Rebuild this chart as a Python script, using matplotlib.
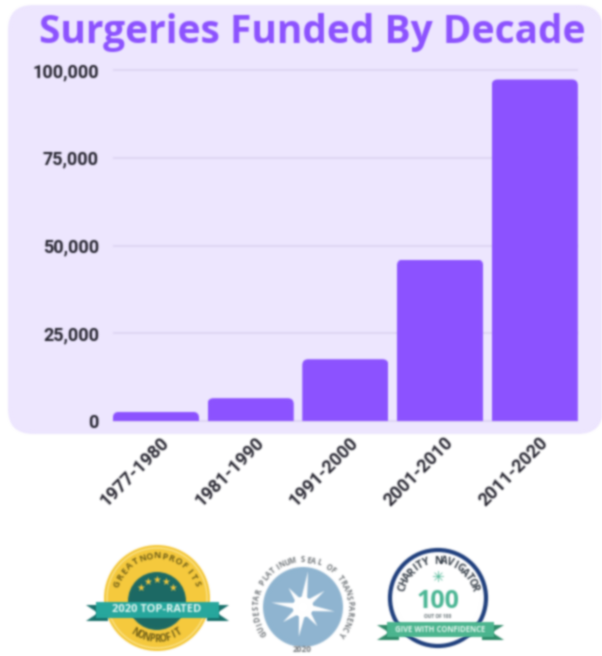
import numpy as np
import matplotlib
matplotlib.use('Agg')
import matplotlib.pyplot as plt
from matplotlib.patches import Circle, FancyBboxPatch, Patch, Polygon
from matplotlib.collections import LineCollection
from matplotlib.text import Text
from matplotlib.transforms import ScaledTranslation

decades = ['1977-1980', '1981-1990', '1991-2000', '2001-2010', '2011-2020']
surgeries = [2600, 6500, 17600, 46000, 97300]
y_ticks = [0, 25000, 50000, 75000, 100000]
y_labels = ['0', '25,000', '50,000', '75,000', '100,000']
title = 'Surgeries Funded By Decade'

W, H = 602, 656
PURPLE = '#8c52ff'
LILAC = '#ede6fe'
GRID = '#dcd3f2'
INK = '#24232e'
KERNEL = np.exp(-0.5 * (np.arange(-4, 5) / 0.95) ** 2)
KERNEL = KERNEL / KERNEL.sum()


def soft(im, dpi):
    # the source picture is a blurry screenshot
    pad = 5
    im = np.pad(im, ((pad, pad), (pad, pad), (0, 0)))
    alpha = im[..., 3]
    layers = [im[..., 0] * alpha, im[..., 1] * alpha, im[..., 2] * alpha, alpha]
    out = []
    for layer in layers:
        layer = np.apply_along_axis(lambda m: np.convolve(m, KERNEL, mode='same'), 0, layer)
        layer = np.apply_along_axis(lambda m: np.convolve(m, KERNEL, mode='same'), 1, layer)
        out.append(layer)
    a = np.maximum(out[3], 1e-4)
    res = np.dstack([out[0] / a, out[1] / a, out[2] / a, out[3]])
    return np.clip(res, 0, 1), -pad, -pad


def arc_text(ax, cx, cy, r, start, end, text, color, size, bottom=False):
    # letters placed one by one, angles clockwise from 12 o'clock
    angles = np.linspace(start, end, len(text))
    for ch, a in zip(text, angles):
        t = np.deg2rad(a)
        rot = 180 - a if bottom else -a
        ax.text(cx + r * np.sin(t), cy - r * np.cos(t), ch, color=color, fontsize=size,
                fontweight='bold', ha='center', va='center', rotation=rot,
                rotation_mode='anchor', family='Open Sans')


def ribbon(ax, x0, x1, y0, y1, color, dark):
    notch = 12
    ax.add_patch(Polygon([(x0, y0 + 3), (x0 + notch + 10, y0 + 3), (x0 + notch + 10, y1 + 3),
                          (x0, y1 + 3), (x0 + notch, (y0 + y1) / 2 + 3)], color=dark, lw=0))
    ax.add_patch(Polygon([(x1, y0 + 3), (x1 - notch - 10, y0 + 3), (x1 - notch - 10, y1 + 3),
                          (x1, y1 + 3), (x1 - notch, (y0 + y1) / 2 + 3)], color=dark, lw=0))
    ax.add_patch(Polygon([(x0 + 10, y0), (x1 - 10, y0), (x1 - 10, y1), (x0 + 10, y1)],
                         color=color, lw=0))


def draw_great_nonprofits(ax):
    cx, cy = 157, 598
    ax.add_patch(Circle((cx, cy), 53, color='#f5c93d', lw=0))
    ax.add_patch(Circle((cx, cy), 50, fc='none', ec='#fbe38a', lw=1))
    ax.add_patch(Circle((cx, cy + 3), 29, color='#1c6a64', lw=0))
    arc_text(ax, cx, cy, 42, -70, 70, 'GREATNONPROFITS', '#6f5e17', 6.5)
    arc_text(ax, cx, cy, 41, 212, 148, 'NONPROFIT', '#6f5e17', 7, bottom=True)
    for a in [-50, -25, 0, 25, 50]:
        t = np.deg2rad(a)
        ax.text(cx + 21 * np.sin(t), cy + 3 - 21 * np.cos(t), '\u2605', color='#f5c93d',
                fontsize=7, ha='center', va='center', family='DejaVu Sans')
    ribbon(ax, 86, 229, 602, 618, '#27a79d', '#17706b')
    ax.text(cx, 609, '2020 TOP-RATED', color='#e8f7f3', fontsize=8, fontweight='bold',
            ha='center', va='center', family='Open Sans')


def draw_guidestar(ax):
    cx, cy = 303, 607
    ax.add_patch(Circle((cx, cy), 40, color='#8fb4d0', lw=0))
    lengths = [36, 8, 27, 8, 32, 8, 24, 8, 30, 8, 25, 8, 32, 8, 24, 8]
    pts = []
    for i, ln in enumerate(lengths):
        t = np.deg2rad(8 + i * 22.5)
        pts.append((cx + ln * np.sin(t), cy - ln * np.cos(t)))
    ax.add_patch(Polygon(pts, color='white', lw=0))
    ax.add_patch(Circle((cx, cy), 10, color='white', lw=0))
    arc_text(ax, cx, cy, 47, -124, 124, 'GUIDESTAR PLATINUM SEAL OF TRANSPARENCY', '#6f7478', 5.5)
    ax.text(cx - 1, 650, '2020', color='#6f7478', fontsize=6, fontweight='bold',
            ha='center', va='center', family='Open Sans')


def draw_charity_navigator(ax):
    cx, cy = 438, 598
    ax.add_patch(Circle((cx, cy), 48, fc='white', ec='#1f3f7d', lw=3))
    arc_text(ax, cx, cy, 37, -74, 74, 'CHARITY NAVIGATOR', '#333c46', 7.5)
    ax.text(cx, 578, '\u2733', color='#49b593', fontsize=11, ha='center', va='center',
            family='DejaVu Sans')
    ax.text(cx, 601, '100', color='#49b593', fontsize=18, fontweight='bold',
            ha='center', va='center', family='Open Sans')
    ax.text(cx, 617, 'OUT OF 100', color='#5f6b70', fontsize=3.5, fontweight='bold',
            ha='center', va='center', family='Open Sans')
    ribbon(ax, 377, 504, 622, 637, '#4cb58f', '#2e8a68')
    ax.text(cx + 2, 629.5, 'GIVE WITH CONFIDENCE', color='#e6f6ef', fontsize=5.5, fontweight='bold',
            ha='center', va='center', family='Open Sans')


fig = plt.figure(figsize=(W / 100, H / 100), dpi=100)

# backdrop in pixel coordinates, y pointing down
bg = fig.add_axes([0, 0, 1, 1])
bg.set_xlim(0, W)
bg.set_ylim(H, 0)
bg.axis('off')
bg.add_patch(FancyBboxPatch((8, 5), 595, 429, boxstyle='round,pad=0,rounding_size=25',
                            fc=LILAC, ec='none'))
bg.text(39, 32, title, color=PURPLE, fontsize=28, fontweight='bold', ha='left', va='center',
        family='Open Sans')

# chart
left, right = 108.6, 582.1
top, bottom = 70, 421
ax = fig.add_axes([left / W, 1 - bottom / H, (right - left) / W, (bottom - top) / H])
ax.patch.set_visible(False)
ax.set_xlim(-0.5, 4.5)
ax.set_ylim(0, 100000)
bar_w = 0.91
ax.hlines(y_ticks, -bar_w / 2, 4 + bar_w / 2, color=GRID, lw=1.2, zorder=1, clip_on=False)
bars = ax.bar(range(len(decades)), surgeries, width=bar_w, color=PURPLE, zorder=2)

# rounded top corners: clip each bar with a rounded box running below the baseline
px_x = (right - left) / 5
px_y = (bottom - top) / 100000
for rect in bars:
    box = FancyBboxPatch((rect.get_x(), -20000), rect.get_width(), rect.get_height() + 20000,
                         boxstyle='round,pad=0,rounding_size=%f' % (6 / px_x),
                         mutation_aspect=px_x / px_y, transform=ax.transData,
                         fc='none', ec='none')
    rect.set_clip_path(box)

ax.set_xticks(range(len(decades)))
ax.set_xticklabels(decades, rotation=45, ha='right', rotation_mode='anchor',
                   fontsize=13, fontweight='bold', color=INK, family='Roboto')
ax.set_yticks(y_ticks)
ax.set_yticklabels(y_labels, fontsize=13, fontweight='bold', color=INK, family='Roboto')
ax.tick_params(axis='both', length=0)
ax.tick_params(axis='y', pad=7)
ax.tick_params(axis='x', pad=9)
shift = ScaledTranslation(3 / 72, 0, fig.dpi_scale_trans)
for lab in ax.get_xticklabels():
    lab.set_transform(lab.get_transform() + shift)
for s in ax.spines.values():
    s.set_visible(False)

# badges
top_ax = fig.add_axes([0, 0, 1, 1])
top_ax.set_xlim(0, W)
top_ax.set_ylim(H, 0)
top_ax.axis('off')
top_ax.patch.set_visible(False)
draw_great_nonprofits(top_ax)
draw_guidestar(top_ax)
draw_charity_navigator(top_ax)

for art in fig.findobj(lambda o: isinstance(o, (Text, Patch, LineCollection))):
    if art.get_visible() and art not in (fig.patch, ax.patch, bg.patch, top_ax.patch):
        art.set_agg_filter(soft)

fig.savefig('out.png', dpi=100)
